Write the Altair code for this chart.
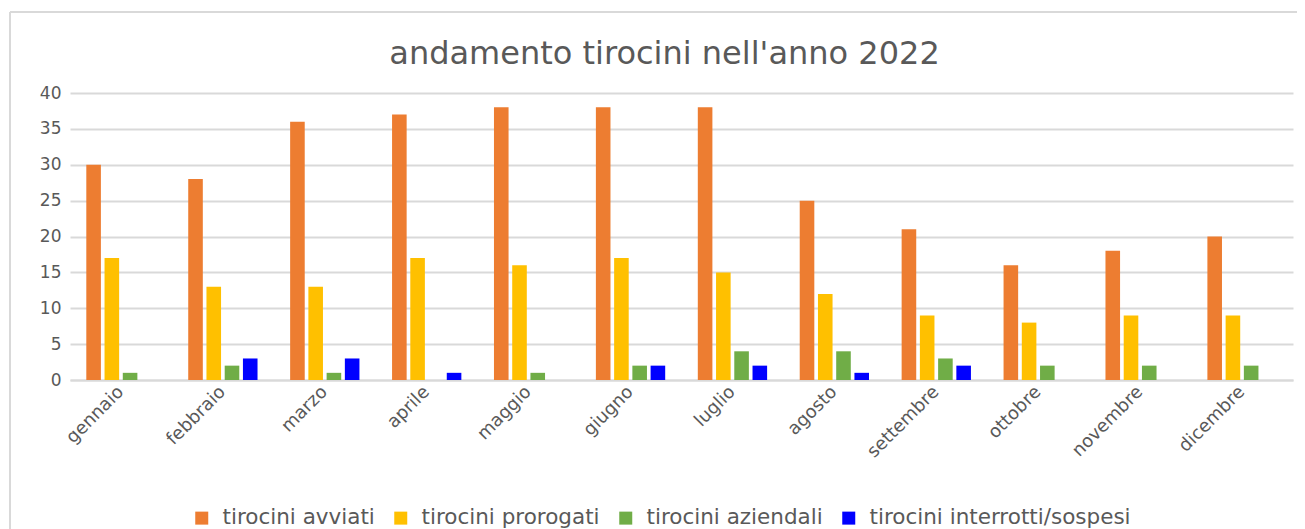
import altair as alt
import pandas as pd

mesi = ["gennaio", "febbraio", "marzo", "aprile", "maggio", "giugno",
        "luglio", "agosto", "settembre", "ottobre", "novembre", "dicembre"]
serie = ["tirocini avviati", "tirocini prorogati", "tirocini aziendali",
         "tirocini interrotti/sospesi"]
avviati = [30, 28, 36, 37, 38, 38, 38, 25, 21, 16, 18, 20]
prorogati = [17, 13, 13, 17, 16, 17, 15, 12, 9, 8, 9, 9]
aziendali = [1, 2, 1, 0, 1, 2, 4, 4, 3, 2, 2, 2]
interrotti = [0, 3, 3, 1, 0, 2, 2, 1, 2, 0, 0, 0]
colori = ["#ED7D31", "#FFC000", "#70AD47", "#0000FF"]

rows = []
for vals, s in zip([avviati, prorogati, aziendali, interrotti], serie):
    for m, v in zip(mesi, vals):
        rows.append({"mese": m, "serie": s, "valore": v})
df = pd.DataFrame(rows)

FONT = "DejaVu Sans"
GREY = "#595959"

bars = alt.Chart(df).mark_bar().encode(
    x=alt.X("mese:N", sort=mesi, title=None,
            scale=alt.Scale(paddingInner=0.32, paddingOuter=0.16),
            axis=alt.Axis(labelAngle=-45, labelAlign="right", labelBaseline="middle",
                          labelFontSize=18, labelColor=GREY,
                          labelFont=FONT, ticks=False, domainColor="#d9d9d9",
                          domainWidth=2, labelPadding=9)),
    xOffset=alt.XOffset("serie:N", sort=serie,
                        scale=alt.Scale(paddingInner=0.2)),
    y=alt.Y("valore:Q", title=None,
            scale=alt.Scale(domain=[0, 40]),
            axis=alt.Axis(values=[0, 5, 10, 15, 20, 25, 30, 35, 40],
                          labelFontSize=17, labelColor=GREY, labelFont=FONT,
                          ticks=False, domain=False, gridColor="#d9d9d9",
                          gridWidth=2, labelPadding=9)),
    color=alt.Color("serie:N", sort=serie,
                    scale=alt.Scale(domain=serie, range=colori),
                    legend=alt.Legend(title=None, orient="none", direction="horizontal",
                                      legendX=121, legendY=414,
                                      symbolType="square", symbolSize=169,
                                      symbolStrokeWidth=0, labelLimit=0,
                                      labelFontSize=21.5, labelFont=FONT,
                                      labelColor=GREY, labelOffset=10,
                                      columnPadding=15)),
)

frame_top = alt.Chart(df).mark_rule(color="#d9d9d9", strokeWidth=2, clip=False).encode(
    x=alt.value(-60), x2=alt.value(1240), y=alt.value(-81))
frame_left = alt.Chart(df).mark_rule(color="#d9d9d9", strokeWidth=2, clip=False).encode(
    x=alt.value(-60), y=alt.value(-81), y2=alt.value(445))

chart = alt.layer(frame_top, frame_left, bars).properties(
    width=1223, height=287,
    autosize=alt.AutoSizeParams(type="none"),
    padding={"left": 62, "top": 85, "right": 4, "bottom": 149},
    title=alt.TitleParams("andamento tirocini nell'anno 2022", fontSize=32,
                          font=FONT, color=GREY, fontWeight="normal",
                          anchor="middle", frame="group", baseline="alphabetic",
                          offset=-85, dx=-17),
).configure_view(stroke=None)

chart.save("out.html", embed_options={"renderer": "svg", "actions": False})
